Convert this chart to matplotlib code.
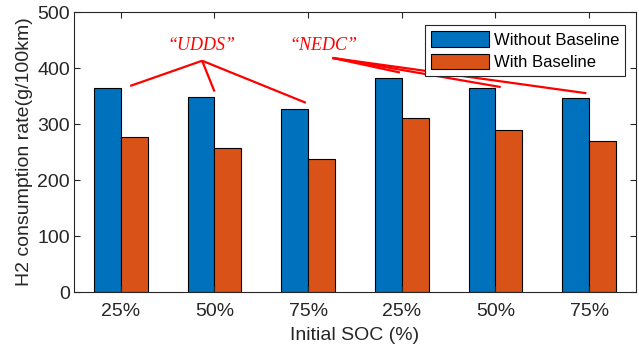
import matplotlib
import numpy as np

matplotlib.use("Agg")
import matplotlib.pyplot as plt

matplotlib.rcParams.update(
    {
        "font.family": "Liberation Sans",
        "font.size": 14,
        "axes.linewidth": 0.8,
        "axes.edgecolor": "0.15",
        "xtick.color": "0.15",
        "ytick.color": "0.15",
        "xtick.labelcolor": "0.15",
        "ytick.labelcolor": "0.15",
    }
)

# Initial SOC for each run: three UDDS runs, then three NEDC runs
soc_labels = ["25%", "50%", "75%", "25%", "50%", "75%"]
without_baseline = [364, 348, 327, 382, 364, 346]
with_baseline = [276, 257, 238, 311, 289, 270]

cycles = ["\u201cUDDS\u201d", "\u201cNEDC\u201d"]
cycle_groups = [[0, 1, 2], [3, 4, 5]]

x = np.arange(1, len(soc_labels) + 1)
width = 0.285
blue = "#0072BD"
orange = "#D95319"

fig = plt.figure(figsize=(6.39, 3.54), dpi=100)
ax = fig.add_axes([0.1158, 0.1751, 0.8795, 0.7909])

ax.bar(x - width / 2, without_baseline, width, color=blue, edgecolor="black",
       linewidth=0.8, label="Without Baseline")
ax.bar(x + width / 2, with_baseline, width, color=orange, edgecolor="black",
       linewidth=0.8, label="With Baseline")

ax.set_xlim(0.5, 6.5)
ax.set_ylim(0, 500)
ax.set_xticks(x)
ax.set_xticklabels(soc_labels)
ax.set_yticks(np.arange(0, 501, 100))
ax.tick_params(direction="in", length=4, width=0.8, top=True, right=True)
ax.tick_params(axis="x", pad=8)
ax.tick_params(axis="y", pad=3)
ax.set_xlabel("Initial SOC (%)", color="0.15", labelpad=5)
ax.set_ylabel("H2 consumption rate(g/100km)", color="0.15", labelpad=3)

# Callout lines from each drive-cycle label to the tops of its bars
apex = [(1.868, 413), (3.259, 418)]
text_pos = [(1.855, 440), (3.16, 441)]
end_dx = [[0.10, 0.0, -0.025], [-0.02, 0.056, -0.03]]
end_dy = [[4, 10, 11], [10, 2, 9]]
for name, grp, (ax0, ay0), (tx, ty), dxs, dys in zip(
        cycles, cycle_groups, apex, text_pos, end_dx, end_dy):
    ax.text(tx, ty, name, color="red", fontstyle="italic", fontsize=13,
            family="Liberation Serif", ha="center", va="center")
    for i, dx, dy in zip(grp, dxs, dys):
        ax.plot([ax0, x[i] + dx], [ay0, without_baseline[i] + dy],
                color="red", linewidth=1.6, solid_capstyle="butt")

leg = ax.legend(loc="upper right", bbox_to_anchor=(0.981, 0.9525), fontsize=12,
                handlelength=3.5, handleheight=1.05, handletextpad=0.3,
                borderpad=0.35, labelspacing=0.38, borderaxespad=0,
                fancybox=False, framealpha=1)
leg.get_frame().set_edgecolor("0.15")
leg.get_frame().set_linewidth(0.8)

fig.savefig("out.png", dpi=100)
